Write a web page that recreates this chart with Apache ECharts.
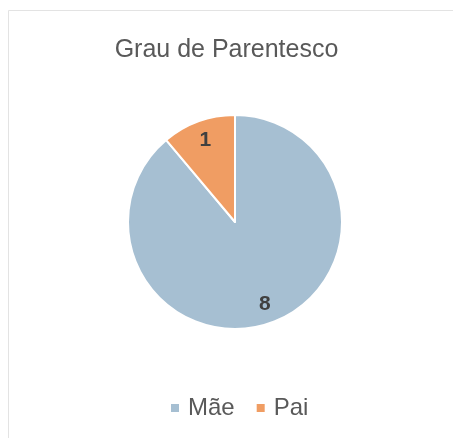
<!DOCTYPE html>
<html><head><meta charset="utf-8">
<script src="https://cdn.jsdelivr.net/npm/echarts@6/dist/echarts.min.js"></script>
<style>html,body{margin:0;padding:0;background:#fff}#c{width:453px;height:438px}</style>
</head><body><div id="c"></div>
<script>
const categories = ['Mãe', 'Pai'];
const values = [8, 1];
const colors = ['#A6BFD2', '#F09D63'];
const data = categories.map((n, i) => ({ name: n, value: values[i], itemStyle: { color: colors[i] } }));
const chart = echarts.init(document.getElementById('c'));
chart.setOption({
  animation: false,
  graphic: [{ type: 'rect', shape: { x: 8.5, y: 10.5, width: 460, height: 440 }, style: { fill: 'none', stroke: '#e3e3e3', lineWidth: 1 }, silent: true, z: -1 }],
  title: { text: 'Grau de Parentesco', left: 'center', top: 33, textStyle: { fontFamily: 'Liberation Sans, Arial, sans-serif', fontSize: 25, fontWeight: 'normal', color: '#595959' } },
  legend: { data: categories, left: 164, top: 391, icon: 'rect', itemWidth: 10, itemHeight: 10, itemGap: 20, textStyle: { fontFamily: 'Liberation Sans, Arial, sans-serif', fontSize: 24, color: '#595959', padding: [0, 0, 0, 3] } },
  series: [
    { type: 'pie', center: [235, 222], radius: [0, 107], startAngle: 90, clockwise: true, silent: true,
      itemStyle: { borderColor: '#fff', borderWidth: 2 }, label: { show: false }, labelLine: { show: false }, data: data },
    { type: 'pie', center: [235, 222], radius: [62, 106], startAngle: 90, clockwise: true, silent: true,
      itemStyle: { color: 'rgba(0,0,0,0)' }, labelLine: { show: false },
      label: { show: true, position: 'inside', formatter: '{c}', fontFamily: 'Liberation Sans, Arial, sans-serif', fontSize: 21, fontWeight: 'bold', color: '#404040' },
      data: categories.map((n, i) => ({ name: n, value: values[i] })) }
  ]
});
</script></body></html>
